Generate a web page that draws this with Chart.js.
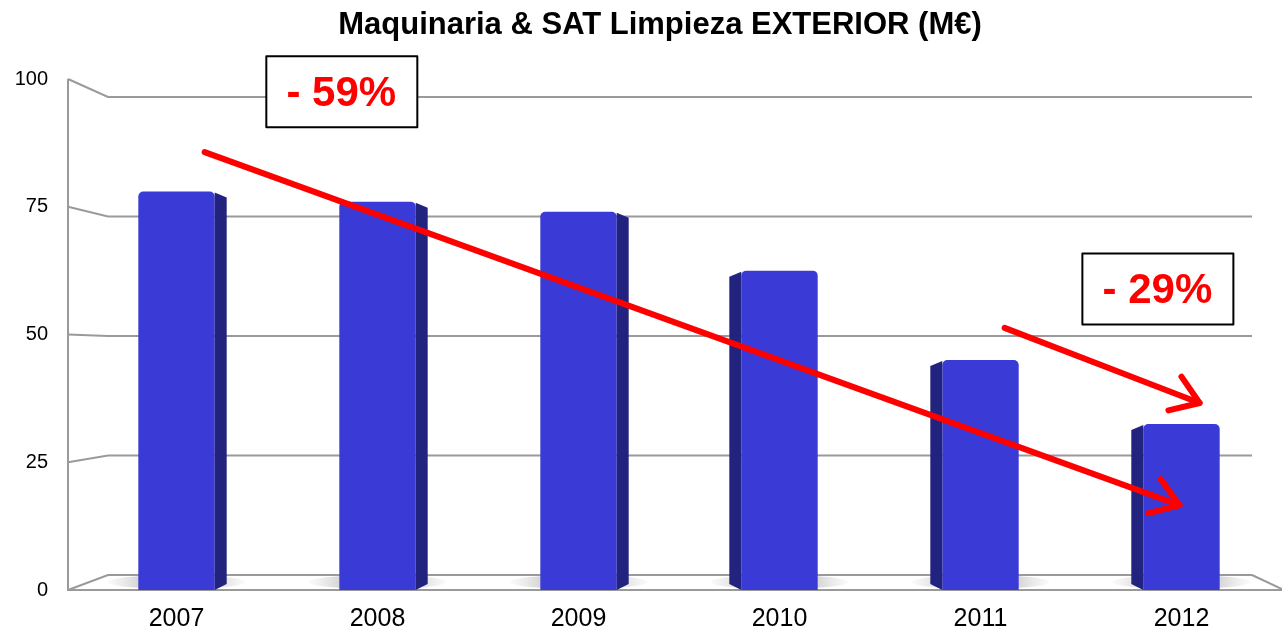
<!DOCTYPE html>
<html>
<head>
<meta charset="utf-8">
<script src="https://cdn.jsdelivr.net/npm/chart.js@4"></script>
<style>
  html, body { margin: 0; padding: 0; background: #fff; }
  #wrap { width: 1282px; height: 634px; }
</style>
</head>
<body>
<div id="wrap"><canvas id="chart" width="1282" height="634"></canvas></div>
<script>
// datos
const years = ['2007', '2008', '2009', '2010', '2011', '2012'];
const valores = [78, 76, 74, 62.5, 45, 32.5];
const yTicks = [0, 25, 50, 75, 100];
const titulo = 'Maquinaria & SAT Limpieza EXTERIOR (M€)';

// etiquetas de variacion (posicion en coordenadas de datos: indice, valor)
const etiquetas = [
    { text: '- 59%', x: 0.82, y: 97.6 },
    { text: '- 29%', x: 4.88, y: 59 }
];
// flechas (desde / hasta en coordenadas de datos)
const flechas = [
    { from: [0.14, 85.7], to: [4.99, 16.6] },
    { from: [4.12, 51.3], to: [5.09, 36.6] }
];

// pared del fondo: escala para simular profundidad
function backY(scale, v) {
    const y0 = scale.getPixelForValue(0);
    const y1 = scale.getPixelForValue(100);
    const b0 = y0 - 15, b1 = y1 + 18;
    return b0 + (scale.getPixelForValue(v) - y0) * (b1 - b0) / (y1 - y0);
}

const fondo3d = {
    id: 'fondo3d',
    beforeDatasetsDraw(chart) {
        const ctx = chart.ctx;
        const y = chart.scales.y;
        const area = chart.chartArea;
        const left = area.left - 8, right = area.right;
        const depth = 40;
        ctx.save();
        ctx.strokeStyle = '#9a9a9a';
        ctx.lineWidth = 2;
        yTicks.forEach(v => {
            const fy = y.getPixelForValue(v);
            const by = backY(y, v);
            ctx.beginPath();
            ctx.moveTo(left, fy);
            ctx.lineTo(left + depth, by);
            ctx.lineTo(right - 30, by);
            ctx.stroke();
        });
        // eje vertical frontal
        ctx.beginPath();
        ctx.moveTo(left, y.getPixelForValue(100));
        ctx.lineTo(left, y.getPixelForValue(0));
        ctx.lineTo(right, y.getPixelForValue(0));
        ctx.stroke();
        // borde derecho del suelo
        ctx.beginPath();
        ctx.moveTo(right - 30, backY(y, 0));
        ctx.lineTo(right, y.getPixelForValue(0) - 1);
        ctx.stroke();

        // sombras en el suelo
        const meta = chart.getDatasetMeta(0);
        meta.data.forEach(bar => {
            const cy = y.getPixelForValue(0) - 8;
            const g = ctx.createRadialGradient(bar.x, cy, 5, bar.x, cy, bar.width);
            g.addColorStop(0, 'rgba(110,110,110,0.75)');
            g.addColorStop(1, 'rgba(200,200,200,0)');
            ctx.fillStyle = g;
            ctx.beginPath();
            ctx.ellipse(bar.x, cy, bar.width * 0.9, 7, 0, 0, Math.PI * 2);
            ctx.fill();
        });
        ctx.restore();
    },
    afterDatasetsDraw(chart) {
        const ctx = chart.ctx;
        const meta = chart.getDatasetMeta(0);
        const n = meta.data.length;
        ctx.save();
        meta.data.forEach((bar, i) => {
            const half = bar.width / 2;
            const side = 12;
            const derecha = i < n / 2;
            const x0 = derecha ? bar.x + half : bar.x - half - side;
            const x1 = x0 + side;
            ctx.fillStyle = '#22227f';
            ctx.beginPath();
            if (derecha) {
                ctx.moveTo(x0, bar.y + 1);
                ctx.lineTo(x1, bar.y + 6);
                ctx.lineTo(x1, bar.base - 6);
                ctx.lineTo(x0, bar.base);
            } else {
                ctx.moveTo(x1, bar.y + 1);
                ctx.lineTo(x0, bar.y + 6);
                ctx.lineTo(x0, bar.base - 6);
                ctx.lineTo(x1, bar.base);
            }
            ctx.closePath();
            ctx.fill();
        });
        ctx.restore();
    },
    afterDraw(chart) {
        const ctx = chart.ctx;
        const xs = chart.scales.x, ys = chart.scales.y;
        const px = v => xs.getPixelForValue(v);
        const py = v => ys.getPixelForValue(v);
        ctx.save();
        // titulo
        ctx.fillStyle = '#000';
        ctx.font = 'bold 31px "Liberation Sans", Arial, sans-serif';
        ctx.textAlign = 'center';
        ctx.textBaseline = 'middle';
        ctx.fillText(titulo, 660, 25);

        // flechas
        ctx.strokeStyle = '#ff0000';
        ctx.lineWidth = 6;
        ctx.lineCap = 'round';
        ctx.lineJoin = 'round';
        flechas.forEach(f => {
            const x0 = px(f.from[0]), y0 = py(f.from[1]);
            const x1 = px(f.to[0]), y1 = py(f.to[1]);
            const a = Math.atan2(y1 - y0, x1 - x0);
            ctx.beginPath();
            ctx.moveTo(x0, y0);
            ctx.lineTo(x1, y1);
            ctx.stroke();
            ctx.beginPath();
            ctx.moveTo(x1 - 32 * Math.cos(a - 0.6), y1 - 32 * Math.sin(a - 0.6));
            ctx.lineTo(x1, y1);
            ctx.lineTo(x1 - 32 * Math.cos(a + 0.6), y1 - 32 * Math.sin(a + 0.6));
            ctx.stroke();
        });

        // cajas de porcentaje
        ctx.font = 'bold 42px "Liberation Sans", Arial, sans-serif';
        etiquetas.forEach(e => {
            const cx = px(e.x), cy = py(e.y);
            ctx.fillStyle = '#fff';
            ctx.fillRect(cx - 75, cy - 35, 151, 71);
            ctx.strokeStyle = '#000';
            ctx.lineWidth = 2;
            ctx.strokeRect(cx - 75, cy - 35, 151, 71);
            ctx.fillStyle = '#ff0000';
            ctx.fillText(e.text, cx, cy + 3);
        });
        ctx.restore();
    }
};

new Chart(document.getElementById('chart').getContext('2d'), {
    type: 'bar',
    data: {
        labels: years,
        datasets: [{
            data: valores,
            backgroundColor: '#3a3ad6',
            borderRadius: { topLeft: 5, topRight: 5 },
            borderSkipped: 'bottom',
            barPercentage: 0.38,
            categoryPercentage: 1
        }]
    },
    options: {
        responsive: false,
        animation: false,
        layout: { padding: { top: 79, right: 0, bottom: 0, left: 0 } },
        plugins: {
            legend: { display: false },
            title: { display: false },
            tooltip: { enabled: false }
        },
        scales: {
            x: {
                grid: { display: false },
                border: { display: false },
                ticks: {
                    color: '#000',
                    font: { size: 25, family: '"Liberation Sans", Arial, sans-serif' },
                    padding: 6
                },
                afterFit(scale) { scale.height = 44; }
            },
            y: {
                min: 0,
                max: 100,
                afterBuildTicks(scale) { scale.ticks = yTicks.map(v => ({ value: v })); },
                grid: { display: false },
                border: { display: false },
                ticks: {
                    color: '#000',
                    font: { size: 20, family: '"Liberation Sans", Arial, sans-serif' },
                    padding: 20
                },
                afterFit(scale) { scale.width = 76; }
            }
        }
    },
    plugins: [fondo3d]
});
</script>
</body>
</html>
